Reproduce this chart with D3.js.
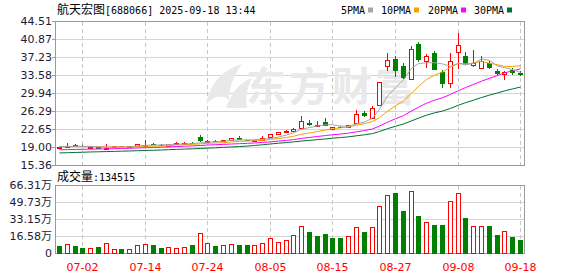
<!DOCTYPE html>
<meta charset="utf-8">
<script src="https://d3js.org/d3.v7.min.js"></script>
<style>
  body { margin: 0; background: #fff; }
  text { font-family: "DejaVu Sans", sans-serif; }
</style>
<body>
<div id="chart"></div>
<script>

var dates = ["06-27","06-30","07-01","07-02","07-03","07-04","07-07","07-08","07-09","07-10",
  "07-11","07-14","07-15","07-16","07-17","07-18","07-21","07-22","07-23","07-24",
  "07-25","07-28","07-29","07-30","07-31","08-01","08-04","08-05","08-06","08-07",
  "08-08","08-11","08-12","08-13","08-14","08-15","08-18","08-19","08-20","08-21",
  "08-22","08-25","08-26","08-27","08-28","08-29","09-01","09-02","09-03","09-04",
  "09-05","09-08","09-09","09-10","09-11","09-12","09-15","09-16","09-17","09-18"];

var open  = [18.95,19.05,19.50,19.35,19.00,19.10,18.85,19.05,19.35,19.20,
  19.25,19.55,19.80,19.60,19.35,19.80,19.85,20.00,21.20,20.20,
  20.40,20.30,20.55,20.95,20.50,20.30,20.60,21.10,21.80,22.10,
  22.40,22.90,24.00,23.30,24.10,22.80,23.15,23.10,23.90,26.00,
  25.00,27.60,35.50,36.96,35.60,32.90,39.94,36.43,38.20,34.20,
  32.10,38.42,37.56,35.80,35.10,36.10,34.40,33.90,34.60,34.10];
var high  = [19.15,19.85,19.65,19.45,19.25,19.15,19.75,19.35,19.40,19.35,
  19.75,20.45,19.95,19.65,19.75,20.15,20.05,20.05,21.60,20.60,
  20.50,20.60,20.95,21.30,20.60,20.50,21.40,21.80,22.10,22.50,
  23.00,25.40,24.50,24.30,24.90,23.20,23.30,23.60,26.50,26.30,
  27.50,32.30,38.10,37.60,36.10,39.50,40.40,37.90,38.60,34.60,
  38.10,42.20,38.30,38.75,37.56,36.60,34.80,34.40,35.00,34.40];
var low   = [18.85,18.95,19.25,19.05,18.85,18.60,18.80,18.95,19.15,19.15,
  19.20,19.45,19.45,19.35,19.30,19.70,19.75,19.75,20.10,20.10,
  20.20,20.20,20.50,20.55,20.30,20.20,20.50,21.00,21.60,21.95,
  22.30,22.80,23.40,23.20,23.40,22.70,22.90,23.00,23.80,25.20,
  24.90,27.50,34.40,33.30,32.80,32.90,36.40,35.10,34.60,31.00,
  31.10,34.90,35.80,35.40,34.90,34.90,33.70,32.60,33.60,33.40];
var close = [19.02,19.40,19.35,19.15,19.17,18.70,19.00,19.30,19.25,19.30,
  19.70,19.60,19.55,19.45,19.70,20.00,19.95,19.85,20.25,20.40,
  20.30,20.45,20.90,20.60,20.40,20.45,21.00,21.75,22.05,22.35,
  22.80,24.45,23.60,23.50,23.45,23.10,23.05,23.50,25.80,25.40,
  26.90,32.20,36.70,34.45,33.10,38.90,36.76,37.56,34.60,31.80,
  36.56,39.74,35.90,36.10,36.43,35.10,33.90,34.30,34.10,33.60];

// volume in 万 shares, colour of each volume bar as read (r = up, g = down)
var volume = [7.0,9.2,7.6,5.7,5.7,6.7,10.5,4.8,4.8,4.8,
  8.2,9.5,8.6,5.7,6.7,5.7,6.7,8.6,19.7,10.5,
  7.0,8.6,9.2,8.6,7.9,8.6,10.5,14.9,11.4,13.3,
  17.8,27.3,21.3,17.1,19.0,15.2,15.2,16.8,26.3,21.3,
  26.3,46.3,57.1,59.0,41.9,60.9,36.2,31.1,27.6,27.6,
  51.1,58.7,34.3,27.3,27.3,27.3,18.1,21.6,16.2,13.45];
var volDir = "grggrgrrgr" + "rrggrrrgrr" + "grrggrrrrr" + "rrgggggrrg" + "rrrggrgrgg" + "rrgrrggrgg";

var ma5  = [19.20,19.22,19.25,19.22,19.22,19.15,19.07,19.06,19.08,19.11,
  19.31,19.43,19.48,19.52,19.60,19.66,19.73,19.79,19.95,20.09,
  20.15,20.25,20.46,20.54,20.54,20.56,20.67,20.84,21.13,21.53,
  21.99,22.68,23.05,23.36,23.58,23.62,23.34,23.32,23.78,24.16,
  24.94,26.76,29.40,31.13,32.67,35.05,35.98,36.15,36.18,35.92,
  35.46,36.05,35.72,36.02,36.95,36.65,35.49,35.17,34.77,34.20];
var ma10 = [19.15,19.17,19.18,19.18,19.17,19.15,19.13,19.13,19.14,19.16,
  19.23,19.25,19.27,19.30,19.36,19.49,19.58,19.64,19.74,19.85,
  19.91,19.99,20.13,20.24,20.31,20.36,20.46,20.65,20.83,21.03,
  21.28,21.68,21.95,22.24,22.54,22.79,22.99,23.15,23.53,23.84,
  24.27,25.04,26.35,27.45,28.41,30.00,31.36,32.77,33.65,34.29,
  35.25,36.02,35.94,36.10,36.44,36.06,35.77,35.44,35.39,35.57];
var ma20 = [18.55,18.58,18.61,18.64,18.67,18.70,18.73,18.77,18.81,18.85,
  18.90,18.95,19.00,19.06,19.12,19.19,19.26,19.33,19.41,19.50,
  19.57,19.63,19.71,19.78,19.84,19.93,20.03,20.15,20.29,20.44,
  20.59,20.84,21.04,21.24,21.42,21.58,21.73,21.91,22.18,22.43,
  22.76,23.34,24.13,24.83,25.46,26.39,27.17,27.96,28.59,29.07,
  29.76,30.52,31.14,31.77,32.42,33.03,33.57,34.11,34.52,34.93];
var ma30 = [17.90,17.95,18.00,18.05,18.10,18.14,18.18,18.22,18.26,18.30,
  18.35,18.40,18.45,18.50,18.56,18.62,18.68,18.74,18.81,18.88,
  18.95,19.03,19.11,19.20,19.30,19.42,19.56,19.72,19.87,20.01,
  20.14,20.31,20.45,20.59,20.74,20.88,21.02,21.16,21.38,21.58,
  21.82,22.24,22.81,23.31,23.76,24.39,24.95,25.54,26.02,26.38,
  26.92,27.57,28.07,28.58,29.12,29.61,30.04,30.46,30.86,31.24];

var priceTicks = ["15.36","19.00","22.65","26.29","29.94","33.58","37.23","40.87","44.51"];
var volTicks = ["0","16.58","33.15","49.73","66.31"];
var labelDates = ["07-02","07-14","07-24","08-05","08-15","08-27","09-08","09-18"];

var red = "#ff0000", green = "#008000", gridC = "#d4d4d4", frameC = "#9a9a9a";
var left = 55, right = 525;

var svg = d3.select("#chart").append("svg")
  .attr("width", 578)
  .attr("height", 276);

var x = d3.scaleBand().domain(dates).range([left, right - 1]).paddingInner(0.3).paddingOuter(0.15);
var cx = function(i) { return Math.round(x(dates[i]) + x.bandwidth() / 2) + 0.5; };

var y = d3.scaleLinear().domain([15.36, 44.51]).range([165.5, 21.5]);
var vy = d3.scaleLinear().domain([0, 66.31]).range([253.5, 185.5]);

// ---- grid
function grid(scale, ticks, top, bottom) {
  svg.append("g").selectAll("line").data(ticks).join("line")
    .attr("x1", left).attr("x2", right)
    .attr("y1", d => scale(+d)).attr("y2", d => scale(+d))
    .attr("stroke", gridC);
  svg.append("g").selectAll("line").data(labelDates).join("line")
    .attr("x1", d => cx(dates.indexOf(d))).attr("x2", d => cx(dates.indexOf(d)))
    .attr("y1", top).attr("y2", bottom)
    .attr("stroke", "#c8c8c8").attr("stroke-dasharray", "4,3");
}
grid(y, priceTicks, 22, 165);
grid(vy, volTicks, 186, 253);

// watermark
var wm = svg.append("g").attr("fill", "#e9e9e9");
wm.append("path")
  .attr("d", "M206,104 C210,84 222,70 242,64 C233,76 229,88 229,100 C222,94 214,96 206,104 Z");
wm.append("path")
  .attr("d", "M226,108 C232,92 240,82 252,78 C247,88 245,98 247,108 Z");
wm.append("text")
  .attr("x", 246).attr("y", 101)
  .style("font-family", "'Noto Sans CJK SC'")
  .style("font-size", "40px").style("font-weight", "bold")
  .style("letter-spacing", "3px")
  .text("东方财富");

// ---- frames
function frame(top, bottom) {
  svg.append("rect")
    .attr("x", left + 0.5).attr("y", top)
    .attr("width", right - left - 1).attr("height", bottom - top)
    .attr("fill", "none").attr("stroke", frameC);
}
frame(21.5, 165.5);
frame(185.5, 253.5);

// ---- candles
var idx = d3.range(dates.length);
var isUp = i => close[i] >= open[i];
var cg = svg.append("g").selectAll("g").data(idx).join("g");
cg.append("line")
  .attr("x1", cx).attr("x2", cx)
  .attr("y1", i => Math.round(y(high[i]))).attr("y2", i => Math.round(y(low[i])))
  .attr("stroke", i => isUp(i) ? red : green);
cg.append("rect")
  .attr("x", i => isUp(i) ? cx(i) - 2 : cx(i) - 2.5)
  .attr("y", i => isUp(i) ? Math.round(y(close[i])) + 0.5 : Math.round(y(open[i])))
  .attr("width", i => isUp(i) ? 4 : 5)
  .attr("height", function(i) {
    var a = Math.round(y(Math.max(open[i], close[i]))), b = Math.round(y(Math.min(open[i], close[i])));
    return Math.max(1, b - a);
  })
  .attr("fill", i => isUp(i) ? "#fff" : green)
  .attr("stroke", i => isUp(i) ? red : "none");

// ---- moving averages
var line = d3.line().x((d, i) => cx(i)).y(d => y(d));
[[ma30, "#007030"], [ma20, "#ff00ff"], [ma10, "#f4a300"], [ma5, "#a6a6a6"]].forEach(function(m) {
  svg.append("path").datum(m[0])
    .attr("fill", "none").attr("stroke", m[1]).attr("stroke-width", 1)
    .attr("d", line);
});

// ---- volume
var vUp = i => volDir[i] == "r";
svg.append("g").selectAll("rect").data(idx).join("rect")
  .attr("x", i => vUp(i) ? cx(i) - 2 : cx(i) - 2.5)
  .attr("y", i => vUp(i) ? Math.round(vy(volume[i])) + 0.5 : Math.round(vy(volume[i])))
  .attr("width", i => vUp(i) ? 4 : 5)
  .attr("height", i => vUp(i) ? 253 - Math.round(vy(volume[i])) : 254 - Math.round(vy(volume[i])))
  .attr("fill", i => vUp(i) ? "#fff" : green)
  .attr("stroke", i => vUp(i) ? red : "none");

// ---- axis labels
svg.append("g").selectAll("text").data(priceTicks).join("text")
  .attr("x", 52).attr("y", d => y(+d)).attr("dy", "0.36em")
  .attr("text-anchor", "end").style("font-size", "11px").attr("fill", "#1c1c38")
  .text(d => d);
svg.append("g").selectAll("line").data(priceTicks).join("line")
  .attr("x1", 52).attr("x2", 55).attr("y1", d => y(+d)).attr("y2", d => y(+d))
  .attr("stroke", frameC);

var vt = svg.append("g").selectAll("text").data(volTicks).join("text")
  .attr("x", 52).attr("y", d => vy(+d)).attr("dy", "0.36em")
  .attr("text-anchor", "end").style("font-size", "11px").attr("fill", "#1c1c38");
vt.append("tspan").text(d => d);
vt.append("tspan").style("font-family", "'Noto Sans CJK SC'").text(d => d == "0" ? "" : "万");

svg.append("g").selectAll("text").data(labelDates).join("text")
  .attr("x", d => cx(dates.indexOf(d))).attr("y", 271)
  .attr("text-anchor", "middle").style("font-size", "11px").attr("fill", red)
  .text(d => d);

// ---- title / legend
var mono = "'DejaVu Sans Mono', monospace", cjk = "'Noto Sans CJK SC'";
var title = svg.append("text").attr("x", 57).attr("y", 14).attr("fill", "#000");
title.append("tspan").style("font-family", cjk).style("font-size", "12px").text("航天宏图");
title.append("tspan").style("font-family", mono).style("font-size", "10px").text("[688066] 2025-09-18 13:44");

var legend = [["5PMA", 341, "#a6a6a6"], ["10PMA", 381, "#f4a300"], ["20PMA", 428, "#ff00ff"], ["30PMA", 474, "#007030"]];
legend.forEach(function(l) {
  svg.append("text").attr("x", l[1]).attr("y", 14)
    .style("font-family", mono).style("font-size", "10px").text(l[0]);
  svg.append("rect").attr("x", l[1] + l[0].length * 6 + 3).attr("y", 7.5)
    .attr("width", 5).attr("height", 5).attr("fill", l[2]);
});

var vtitle = svg.append("text").attr("x", 57).attr("y", 181).attr("fill", "#000");
vtitle.append("tspan").style("font-family", cjk).style("font-size", "12px").text("成交量");
vtitle.append("tspan").style("font-family", mono).style("font-size", "10px").text(":134515");

</script>
</body>
